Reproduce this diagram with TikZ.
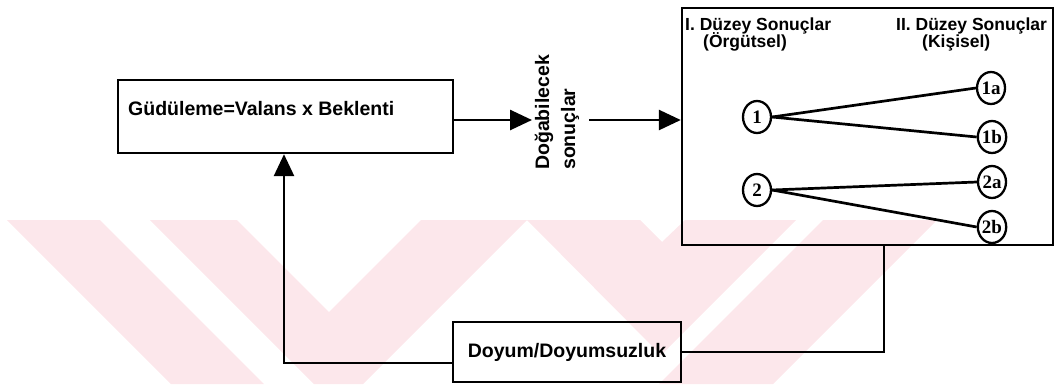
\documentclass[tikz,border=0pt]{standalone}
\usepackage{fontspec}
\setmainfont{Liberation Sans}
\newfontfamily\serifnum{Liberation Serif}
\usetikzlibrary{arrows.meta,shapes.geometric,calc}
\definecolor{wm}{RGB}{252,231,235}
\begin{document}
\begin{tikzpicture}[x=1pt,y=-1pt,
  box/.style={draw,line width=2.4pt,rectangle,inner sep=0},
  conn/.style={line width=2.7pt},
  arr/.style={conn,-{Triangle[length=22pt,width=20pt]}},
  circ/.style={draw,ellipse,line width=2.3pt,minimum width=28pt,minimum height=32pt,inner sep=0,font=\serifnum\bfseries\fontsize{19}{19}\selectfont},
  lbl/.style={font=\bfseries\fontsize{19.5}{20}\selectfont,inner sep=0},
  hdr/.style={font=\bfseries\fontsize{17.5}{18}\selectfont,inner sep=0},
]
\useasboundingbox (0,0) rectangle (1056,384);
% watermark
\fill[wm] (7,220)--(100,220)--(264,384)--(171,384)--cycle;
\fill[wm] (150,220)--(237,220)--(329,312)--(421,220)--(527,220)--(363,384)--(314,384)--cycle;
\fill[wm] (527,220)--(640,220)--(662,242)--(685,220)--(796,220)--(661,355)--cycle;
\fill[wm] (823,220)--(937,220)--(773,384)--(659,384)--cycle;
% boxes
\node[box,minimum width=335pt,minimum height=73pt] (mot) at (285.5,116.5) {};
\node[lbl,anchor=base west] (mottxt) at (128,115) {Güdüleme=Valans x Beklenti};
\node[box,minimum width=371pt,minimum height=237pt] (res) at (867.5,126.5) {};
\node[box,lbl,minimum width=228pt,minimum height=60pt] (doy) at (567,352) {Doyum/Doyumsuzluk};
% rotated label
\node[lbl,rotate=90,anchor=base west] (dog) at (549,170) {Doğabilecek};
\node[lbl,rotate=90,anchor=base west] (son) at (575,170) {sonuçlar};
% headers
\node[hdr,anchor=base west] (h1) at (685,30) {I. Düzey Sonuçlar};
\node[hdr,anchor=base west] (h1b) at (703,47) {(Örgütsel)};
\node[hdr,anchor=base west] (h2) at (896,30) {II. Düzey Sonuçlar};
\node[hdr,anchor=base west] (h2b) at (922,47) {(Kişisel)};
% circles
\node[circ] (c1) at (757,117) {1};
\node[circ] (c1a) at (991,88) {1a};
\node[circ] (c1b) at (992,137) {1b};
\node[circ] (c2) at (757,190) {2};
\node[circ] (c2a) at (992,182) {2a};
\node[circ] (c2b) at (992,227) {2b};
\draw[conn] (c1.east) -- (c1a.west);
\draw[conn] (c1.east) -- (c1b.west);
\draw[conn] (c2.east) -- (c2a.west);
\draw[conn] (c2.east) -- (c2b.west);
% arrows
\coordinate (t1) at (532,120);
\coordinate (s2) at (589,120);
\draw[arr] ($(mot.east)+(0,3.5)$) -- (t1);
\draw[arr] (s2) -- (res.west |- s2);
% feedback
\coordinate (fb) at (884,352);
\coordinate (fl) at (284,363);
\draw[conn] (res.south -| fb) |- (doy.east);
\draw[arr] (doy.west |- fl) -| (mot.south -| fl);
\end{tikzpicture}
\end{document}
